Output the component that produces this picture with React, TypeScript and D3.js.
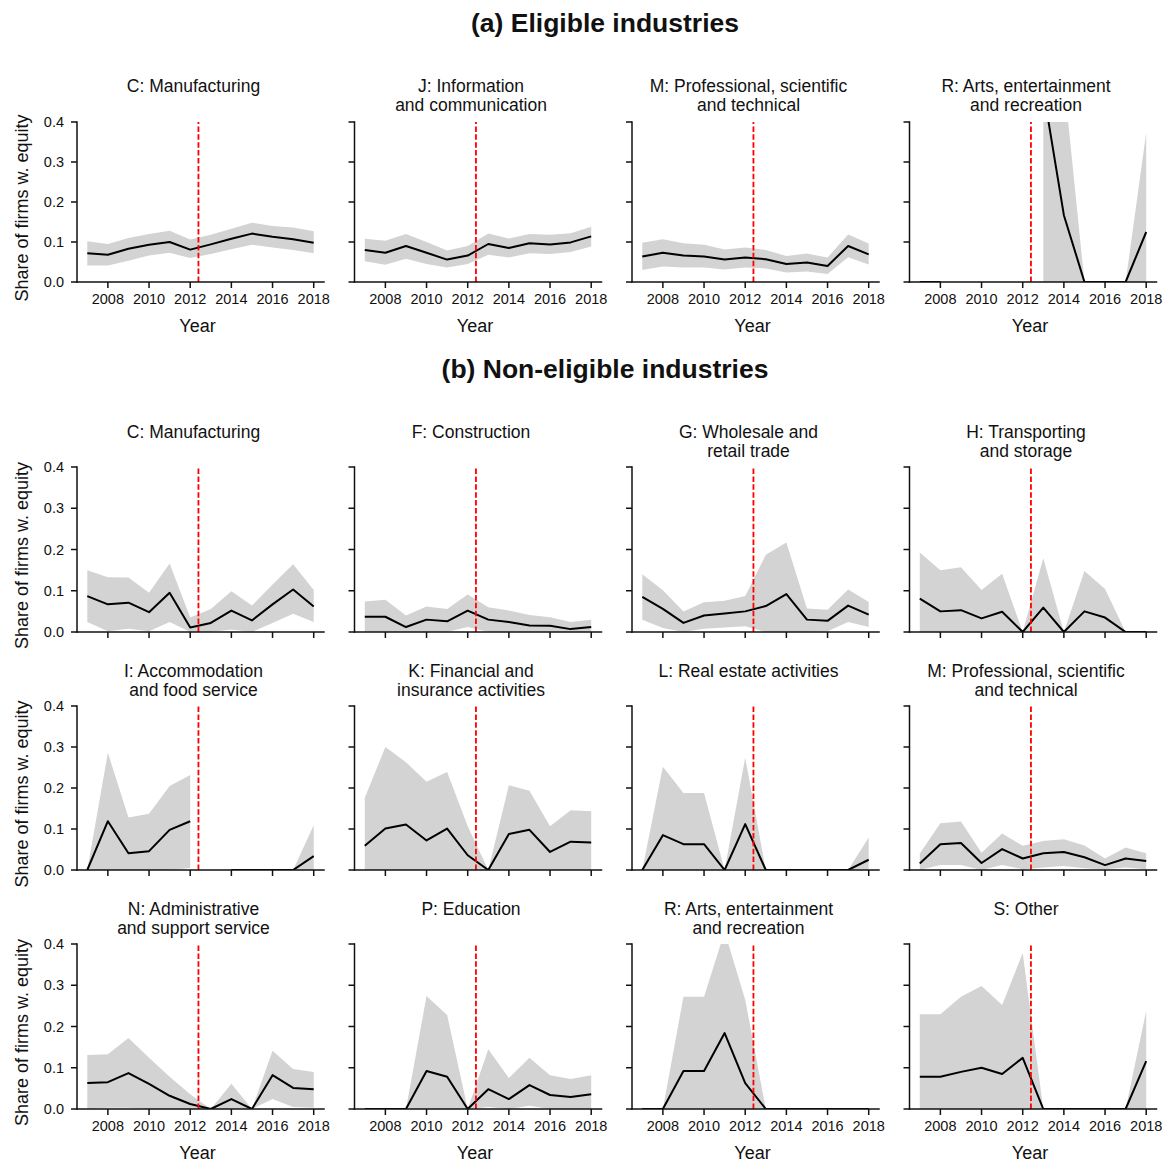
import React from "react";
import * as d3 from "d3";

// ---------- data ----------
const years = [2007, 2008, 2009, 2010, 2011, 2012, 2013, 2014, 2015, 2016, 2017, 2018];
const yTicks = [0, 0.1, 0.2, 0.3, 0.4];
const xTicks = [2008, 2010, 2012, 2014, 2016, 2018];
const reformYear = 2012.4;
const sectionTitles = ["(a) Eligible industries", "(b) Non-eligible industries"];
const yAxisLabel = "Share of firms w. equity";
const xAxisLabel = "Year";

type V = number | null;

// (a) eligible
const aManuMean: V[] = [0.072, 0.068, 0.083, 0.093, 0.1, 0.081, 0.094, 0.108, 0.121, 0.113, 0.107, 0.098];
const aManuLo: V[] = [0.041, 0.041, 0.053, 0.066, 0.073, 0.06, 0.07, 0.082, 0.093, 0.086, 0.08, 0.072];
const aManuHi: V[] = [0.102, 0.095, 0.11, 0.12, 0.128, 0.106, 0.118, 0.133, 0.148, 0.14, 0.136, 0.127];

const aInfoMean: V[] = [0.08, 0.073, 0.09, 0.073, 0.056, 0.066, 0.095, 0.085, 0.097, 0.094, 0.099, 0.114];
const aInfoLo: V[] = [0.052, 0.043, 0.058, 0.045, 0.036, 0.045, 0.068, 0.061, 0.072, 0.07, 0.075, 0.089];
const aInfoHi: V[] = [0.108, 0.103, 0.12, 0.1, 0.079, 0.09, 0.121, 0.109, 0.12, 0.118, 0.122, 0.138];

const aProfMean: V[] = [0.064, 0.073, 0.066, 0.064, 0.056, 0.061, 0.057, 0.045, 0.049, 0.04, 0.09, 0.069];
const aProfLo: V[] = [0.03, 0.039, 0.036, 0.036, 0.031, 0.036, 0.034, 0.024, 0.026, 0.02, 0.062, 0.044];
const aProfHi: V[] = [0.098, 0.107, 0.097, 0.093, 0.081, 0.086, 0.08, 0.065, 0.071, 0.061, 0.119, 0.096];

const aArtsMean: V[] = [0, 0, null, null, null, null, 0.48, 0.167, 0, 0, 0, 0.125];
const aArtsLo: V[] = [0, 0, null, null, null, null, 0, 0, 0, 0, 0, 0];
const aArtsHi: V[] = [0, 0, null, null, null, null, 0.8, 0.506, 0, 0, 0, 0.374];

// (b) non-eligible
const bManuMean: V[] = [0.087, 0.067, 0.071, 0.048, 0.095, 0.011, 0.022, 0.052, 0.028, 0.067, 0.103, 0.062];
const bManuLo: V[] = [0.024, 0.002, 0.008, 0.002, 0.024, 0, 0, 0.006, 0, 0.022, 0.044, 0.024];
const bManuHi: V[] = [0.15, 0.133, 0.132, 0.095, 0.166, 0.035, 0.056, 0.099, 0.064, 0.115, 0.164, 0.102];

const bConsMean: V[] = [0.037, 0.037, 0.012, 0.03, 0.026, 0.052, 0.03, 0.024, 0.016, 0.015, 0.007, 0.012];
const bConsLo: V[] = [0, 0, 0, 0, 0, 0.012, 0, 0, 0, 0, 0, 0];
const bConsHi: V[] = [0.074, 0.078, 0.04, 0.062, 0.056, 0.091, 0.06, 0.052, 0.041, 0.036, 0.024, 0.03];

const bTradeMean: V[] = [0.085, 0.056, 0.022, 0.04, 0.045, 0.05, 0.063, 0.092, 0.03, 0.027, 0.064, 0.042];
const bTradeLo: V[] = [0.03, 0.01, 0, 0.008, 0.011, 0.014, 0, 0, 0, 0.002, 0.024, 0.012];
const bTradeHi: V[] = [0.14, 0.101, 0.05, 0.072, 0.076, 0.087, 0.187, 0.217, 0.057, 0.054, 0.103, 0.073];

const bTransMean: V[] = [0.081, 0.05, 0.053, 0.033, 0.049, 0, 0.059, 0, 0.05, 0.035, 0, 0];
const bTransLo: V[] = [0, 0, 0, 0, 0, 0, 0, 0, 0, 0, 0, 0];
const bTransHi: V[] = [0.193, 0.15, 0.157, 0.102, 0.141, 0, 0.179, 0, 0.148, 0.104, 0, 0];

const bAccMean: V[] = [0, 0.119, 0.041, 0.046, 0.098, 0.119, null, 0, 0, 0, 0, 0.034];
const bAccLo: V[] = [0, 0, 0, 0, 0, 0.005, null, 0, 0, 0, 0, 0];
const bAccHi: V[] = [0, 0.286, 0.128, 0.137, 0.205, 0.232, null, 0, 0, 0, 0, 0.109];

const bFinMean: V[] = [0.059, 0.101, 0.111, 0.072, 0.101, 0.036, 0, 0.088, 0.098, 0.044, 0.069, 0.067];
const bFinLo: V[] = [0, 0, 0, 0, 0, 0, 0, 0, 0, 0, 0, 0];
const bFinHi: V[] = [0.176, 0.3, 0.263, 0.215, 0.239, 0.107, 0, 0.207, 0.193, 0.107, 0.146, 0.143];

const bRealMean: V[] = [0, 0.085, 0.063, 0.063, 0, 0.112, 0, 0, 0, 0, 0, 0.025];
const bRealLo: V[] = [0, 0, 0, 0, 0, 0, 0, 0, 0, 0, 0, 0];
const bRealHi: V[] = [0, 0.252, 0.188, 0.188, 0, 0.274, 0, 0, 0, 0, 0, 0.079];

const bProfMean: V[] = [0.016, 0.063, 0.066, 0.017, 0.051, 0.028, 0.041, 0.044, 0.031, 0.012, 0.028, 0.022];
const bProfLo: V[] = [0, 0.012, 0.012, 0, 0.012, 0.002, 0.006, 0.01, 0.004, 0.002, 0.006, 0.002];
const bProfHi: V[] = [0.04, 0.114, 0.118, 0.042, 0.089, 0.059, 0.071, 0.075, 0.06, 0.028, 0.055, 0.041];

const bAdmMean: V[] = [0.063, 0.065, 0.087, 0.061, 0.032, 0.012, 0, 0.024, 0, 0.082, 0.051, 0.048];
const bAdmLo: V[] = [0, 0.003, 0.003, 0, 0, 0, 0, 0, 0, 0.024, 0.005, 0.003];
const bAdmHi: V[] = [0.131, 0.133, 0.172, 0.124, 0.078, 0.036, 0, 0.061, 0, 0.141, 0.097, 0.09];

const bEduMean: V[] = [0, 0, 0, 0.092, 0.078, 0, 0.048, 0.024, 0.058, 0.034, 0.029, 0.036];
const bEduLo: V[] = [0, 0, 0, 0, 0, 0, 0.005, 0, 0.008, 0, 0, 0];
const bEduHi: V[] = [0, 0, 0, 0.274, 0.228, 0, 0.145, 0.075, 0.124, 0.082, 0.073, 0.082];

const bArtsMean: V[] = [0, 0, 0.092, 0.092, 0.184, 0.063, 0, 0, 0, 0, 0, 0];
const bArtsLo: V[] = [0, 0, 0, 0, 0, 0, 0, 0, 0, 0, 0, 0];
const bArtsHi: V[] = [0, 0, 0.272, 0.272, 0.43, 0.265, 0, 0, 0, 0, 0, 0];

const bOtherMean: V[] = [0.078, 0.078, 0.09, 0.1, 0.085, 0.124, 0, 0, 0, 0, 0, 0.116];
const bOtherLo: V[] = [0, 0, 0, 0, 0, 0, 0, 0, 0, 0, 0, 0];
const bOtherHi: V[] = [0.23, 0.23, 0.272, 0.298, 0.252, 0.378, 0, 0, 0, 0, 0, 0.238];

const panelTitles: string[][] = [
  ["C: Manufacturing"],
  ["J: Information", "and communication"],
  ["M: Professional, scientific", "and technical"],
  ["R: Arts, entertainment", "and recreation"],
  ["C: Manufacturing"],
  ["F: Construction"],
  ["G: Wholesale and", "retail trade"],
  ["H: Transporting", "and storage"],
  ["I: Accommodation", "and food service"],
  ["K: Financial and", "insurance activities"],
  ["L: Real estate activities"],
  ["M: Professional, scientific", "and technical"],
  ["N: Administrative", "and support service"],
  ["P: Education"],
  ["R: Arts, entertainment", "and recreation"],
  ["S: Other"],
];

const panelSeries: [V[], V[], V[]][] = [
  [aManuMean, aManuLo, aManuHi],
  [aInfoMean, aInfoLo, aInfoHi],
  [aProfMean, aProfLo, aProfHi],
  [aArtsMean, aArtsLo, aArtsHi],
  [bManuMean, bManuLo, bManuHi],
  [bConsMean, bConsLo, bConsHi],
  [bTradeMean, bTradeLo, bTradeHi],
  [bTransMean, bTransLo, bTransHi],
  [bAccMean, bAccLo, bAccHi],
  [bFinMean, bFinLo, bFinHi],
  [bRealMean, bRealLo, bRealHi],
  [bProfMean, bProfLo, bProfHi],
  [bAdmMean, bAdmLo, bAdmHi],
  [bEduMean, bEduLo, bEduHi],
  [bArtsMean, bArtsLo, bArtsHi],
  [bOtherMean, bOtherLo, bOtherHi],
];

// ---------- layout ----------
const W = 1167;
const H = 1164;
const FONT = "'Liberation Sans', Arial, Helvetica, sans-serif";
const colLeft = [77, 354.5, 632, 909.5];
const plotW = 247;
const rowTop = [122, 467, 706, 944];
const rowBottom = [282, 632, 870, 1109];
const titleBase = [92, 438, 677, 915];
const titleLineGap = 18.8;
const xLabelRows = [0, 3];
const sectionTitleY = [31.5, 377.5];

const fmt = d3.format(".1f");

function Panel({ idx }: { idx: number }) {
  const row = Math.floor(idx / 4);
  const col = idx % 4;
  const L = colLeft[col];
  const top = rowTop[row];
  const bottom = rowBottom[row];
  const x = d3.scaleLinear().domain([2006.5, 2018.5]).range([L, L + plotW]);
  const y = d3.scaleLinear().domain([0, 0.4]).range([bottom, top]);
  const [mean, lo, hi] = panelSeries[idx];
  const pts = years.map((yr, i) => ({ yr, m: mean[i], lo: lo[i], hi: hi[i] }));
  const area = d3
    .area<any>()
    .defined((d) => d.lo != null && d.hi != null)
    .x((d) => x(d.yr))
    .y0((d) => y(d.lo))
    .y1((d) => y(d.hi));
  const line = d3
    .line<any>()
    .defined((d) => d.m != null)
    .x((d) => x(d.yr))
    .y((d) => y(d.m));
  const clipId = `clip-${idx}`;
  const showX = xLabelRows.includes(row);
  const cx = L + plotW / 2;
  return (
    <g>
      <defs>
        <clipPath id={clipId}>
          <rect x={L} y={top} width={plotW} height={bottom - top} />
        </clipPath>
      </defs>
      {panelTitles[idx].map((t, i) => (
        <text
          key={i}
          x={cx - 7}
          y={titleBase[row] + i * titleLineGap}
          textAnchor="middle"
          fontSize={17.5}
          fontFamily={FONT}
          fill="#111"
        >
          {t}
        </text>
      ))}
      <g clipPath={`url(#${clipId})`}>
        <path d={area(pts) || ""} fill="#d3d3d3" stroke="none" />
        <path d={line(pts) || ""} fill="none" stroke="#000" strokeWidth={2} strokeLinejoin="round" />
      </g>
      <line
        x1={x(reformYear)}
        x2={x(reformYear)}
        y1={y(0)}
        y2={y(0.4)}
        stroke="#ff0000"
        strokeWidth={1.8}
        strokeDasharray="5.5,2.4"
      />
      {/* spines */}
      <line x1={L} x2={L} y1={top} y2={bottom} stroke="#111" strokeWidth={1.5} strokeLinecap="square" />
      <line x1={L} x2={L + plotW} y1={bottom} y2={bottom} stroke="#111" strokeWidth={1.5} strokeLinecap="square" />
      {yTicks.map((t) => (
        <g key={`y${t}`}>
          <line x1={L - 6} x2={L} y1={y(t)} y2={y(t)} stroke="#111" strokeWidth={1.5} />
          {col === 0 && (
            <text
              x={L - 13}
              y={y(t)}
              dy="0.36em"
              textAnchor="end"
              fontSize={14.5}
              fontFamily={FONT}
              fill="#111"
            >
              {fmt(t)}
            </text>
          )}
        </g>
      ))}
      {xTicks.map((t) => (
        <g key={`x${t}`}>
          <line x1={x(t)} x2={x(t)} y1={bottom} y2={bottom + 6} stroke="#111" strokeWidth={1.5} />
          {showX && (
            <text x={x(t)} y={bottom + 22} textAnchor="middle" fontSize={14.5} fontFamily={FONT} fill="#111">
              {t}
            </text>
          )}
        </g>
      ))}
      {showX && (
        <text x={cx - 3} y={bottom + 49.5} textAnchor="middle" fontSize={18} fontFamily={FONT} fill="#111">
          {xAxisLabel}
        </text>
      )}
      {col === 0 && (
        <text
          transform={`translate(27.5, ${(top + bottom) / 2 + 6}) rotate(-90)`}
          textAnchor="middle"
          fontSize={18}
          fontFamily={FONT}
          fill="#111"
        >
          {yAxisLabel}
        </text>
      )}
    </g>
  );
}

export default function App() {
  return (
    <svg
      width={W}
      height={H}
      viewBox={`0 0 ${W} ${H}`}
      style={{ position: "absolute", left: 0, top: 0, background: "#fff" }}
    >
      <rect x={0} y={0} width={W} height={H} fill="#fff" />
      {sectionTitles.map((t, i) => (
        <text
          key={t}
          x={605}
          y={sectionTitleY[i]}
          textAnchor="middle"
          fontSize={26.5}
          fontWeight="bold"
          fontFamily={FONT}
          fill="#111"
        >
          {t}
        </text>
      ))}
      {panelSeries.map((_, i) => (
        <Panel key={i} idx={i} />
      ))}
    </svg>
  );
}
